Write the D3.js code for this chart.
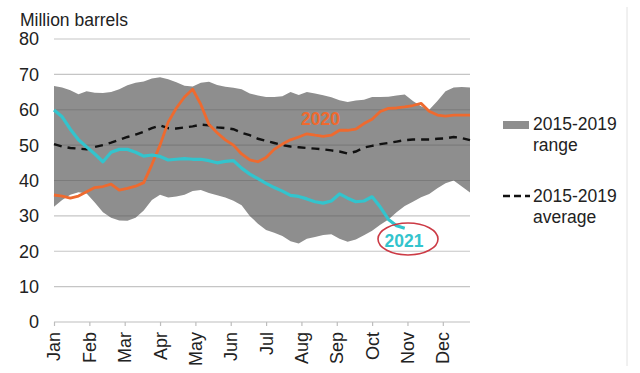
<!DOCTYPE html>
<html><head><meta charset="utf-8">
<script src="https://cdn.jsdelivr.net/npm/d3@7"></script>
<style>
html,body{margin:0;padding:0;background:#fff;}
svg{display:block;font-family:"Liberation Sans",Arial,sans-serif;}
</style></head>
<body>
<svg id="chart" width="640" height="373"></svg>
<script>
// ---- data (weekly, 52 points) ----
const monthLabels = ["Jan","Feb","Mar","Apr","May","Jun","Jul","Aug","Sep","Oct","Nov","Dec"];
const yTicks = [0,10,20,30,40,50,60,70,80];
const rangeMax = [66.7,66.3,65.5,64.4,65.2,64.8,64.7,65.0,65.8,66.9,67.6,68.0,68.8,69.2,68.6,67.8,
  66.8,66.6,67.6,67.9,67.0,66.5,66.2,65.8,64.6,64.0,63.6,63.6,63.8,65.0,64.2,65.0,64.6,64.1,63.5,62.7,
  62.2,62.6,62.8,63.6,63.6,63.7,64.0,64.3,62.5,61.0,60.0,62.5,65.2,66.3,66.4,66.3];
const rangeMin = [32.6,34.5,36.0,36.7,36.3,33.8,31.0,29.5,28.7,28.6,29.5,31.5,34.5,36.0,35.2,35.5,
  36.0,37.0,37.3,36.5,35.8,35.2,34.3,33.0,30.0,27.8,26.0,25.2,24.3,22.8,22.2,23.5,24.0,24.6,24.8,23.5,
  22.7,23.3,24.5,25.8,27.5,29.0,31.0,32.8,34.0,35.3,36.2,37.8,39.2,40.0,38.3,36.6];
const average = [50.3,49.6,49.2,49.0,48.8,49.5,50.0,50.7,51.5,52.3,53.0,53.8,54.8,55.6,54.8,54.7,
  55.0,55.3,55.8,55.6,55.0,54.8,54.5,53.5,52.8,51.8,51.2,50.6,50.0,49.6,49.4,49.2,49.0,48.8,48.5,48.2,
  47.6,48.2,49.3,49.8,50.3,50.6,51.0,51.4,51.6,51.6,51.6,51.8,51.9,52.3,52.0,51.4];
const y2020 = [35.9,35.6,35.0,35.6,36.8,38.0,38.3,39.0,37.3,37.8,38.4,39.4,44.5,50.0,56.5,60.5,
  63.6,65.8,61.5,55.8,53.5,51.5,50.0,47.5,45.8,45.3,46.5,48.8,50.3,51.5,52.3,53.2,52.8,52.5,52.8,54.2,
  54.2,54.5,56.1,57.3,59.5,60.4,60.5,60.8,61.2,61.8,59.6,58.5,58.2,58.5,58.5,58.5];
const y2021 = [59.9,58.0,54.5,51.5,49.5,47.5,45.3,48.0,48.8,48.8,48.0,46.9,47.2,46.8,45.8,46.0,
  46.2,46.0,46.0,45.6,45.0,45.4,45.6,43.5,41.8,40.5,39.2,38.0,37.0,35.8,35.5,34.8,34.0,33.6,34.2,36.2,
  35.0,34.0,34.2,35.4,32.5,29.0,27.2,26.5];

// ---- layout ----
const svg = d3.select("#chart");
const pLeft = 54, pRight = 470, pTop = 39, pBottom = 322;
const weeksPerMonth = 52/12;
const x = d3.scaleLinear().domain([0, 51]).range([pLeft, pRight]);
const y = d3.scaleLinear().domain([0, 80]).range([pBottom, pTop]);

// area range
const area = d3.area().x((d,i)=>x(i)).y0((d,i)=>y(rangeMin[i])).y1(d=>y(d));
svg.append("path").datum(rangeMax).attr("d", area).attr("fill", "#8e8e8e");

// gridlines (on top, semi-transparent)
svg.append("g").selectAll("line").data(yTicks.filter(v=>v>0)).join("line")
  .attr("x1", pLeft).attr("x2", pRight)
  .attr("y1", d=>y(d)).attr("y2", d=>y(d))
  .attr("stroke", "rgba(90,90,90,0.35)").attr("stroke-width", 1.2);

// y labels
svg.append("g").selectAll("text").data(yTicks).join("text")
  .attr("x", 39).attr("y", d=>y(d)).attr("dy", "0.36em")
  .attr("text-anchor", "end").attr("font-size", 18).attr("fill", "#222")
  .text(d=>d);

svg.append("text").attr("x", 20).attr("y", 26).attr("font-size", 17.5).attr("fill", "#222")
  .text("Million barrels");

// x axis
const xAxis = d3.axisBottom(x)
  .tickValues(monthLabels.map((m,i)=>i*weeksPerMonth))
  .tickSize(4).tickFormat("");
const gx = svg.append("g").attr("transform", `translate(0,${pBottom})`).call(xAxis);
gx.select(".domain").attr("stroke", "#bdbdbd").attr("stroke-width", 1.2).attr("d", `M${pLeft},0H${pRight}`);
gx.selectAll(".tick line").attr("stroke", "#bdbdbd").attr("stroke-width", 1.2);
svg.append("g").selectAll("text").data(monthLabels).join("text")
  .attr("transform", (d,i)=>`translate(${x(i*weeksPerMonth)},332) rotate(-90)`)
  .attr("text-anchor", "end").attr("dy", "0.36em")
  .attr("font-size", 18).attr("fill", "#222").text(d=>d);

// average dashed
const line = d3.line().x((d,i)=>x(i)).y(d=>y(d));
svg.append("path").datum(average).attr("d", line).attr("fill","none")
  .attr("stroke","#111").attr("stroke-width",2.4).attr("stroke-dasharray","8,6");

// 2020
svg.append("path").datum(y2020).attr("d", line).attr("fill","none")
  .attr("stroke","#ee6a2f").attr("stroke-width",2.8).attr("stroke-linejoin","round");
// 2021
svg.append("path").datum(y2021).attr("d", line).attr("fill","none")
  .attr("stroke","#33c4cd").attr("stroke-width",3.2).attr("stroke-linejoin","round");

// labels
svg.append("text").attr("x", 301).attr("y", 125).attr("font-size", 17.5).attr("font-weight","bold")
  .attr("fill", "#ee6a2f").text("2020");
svg.append("ellipse").attr("cx", 408).attr("cy", 239).attr("rx", 30).attr("ry", 16)
  .attr("fill","none").attr("stroke","#cc3a45").attr("stroke-width",1.6);
svg.append("text").attr("x", 404).attr("y", 247).attr("text-anchor","middle").attr("font-size", 17.5)
  .attr("font-weight","bold").attr("fill", "#33c4cd").text("2021");

// legend
svg.append("rect").attr("x", 503).attr("y", 121).attr("width", 26).attr("height", 8).attr("fill", "#8e8e8e");
svg.append("text").attr("x", 533).attr("y", 130).attr("font-size", 17.5).attr("fill","#222").text("2015-2019");
svg.append("text").attr("x", 533).attr("y", 151).attr("font-size", 17.5).attr("fill","#222").text("range");
svg.append("line").attr("x1", 503).attr("x2", 530).attr("y1", 196).attr("y2", 196)
  .attr("stroke","#111").attr("stroke-width",2.4).attr("stroke-dasharray","7,4");
svg.append("text").attr("x", 533).attr("y", 202).attr("font-size", 17.5).attr("fill","#222").text("2015-2019");
svg.append("text").attr("x", 533).attr("y", 223).attr("font-size", 17.5).attr("fill","#222").text("average");

// right border line
svg.append("line").attr("x1", 627).attr("x2", 627).attr("y1", 7).attr("y2", 366)
  .attr("stroke", "#e2e2e2").attr("stroke-width", 1);
</script>
</body></html>
